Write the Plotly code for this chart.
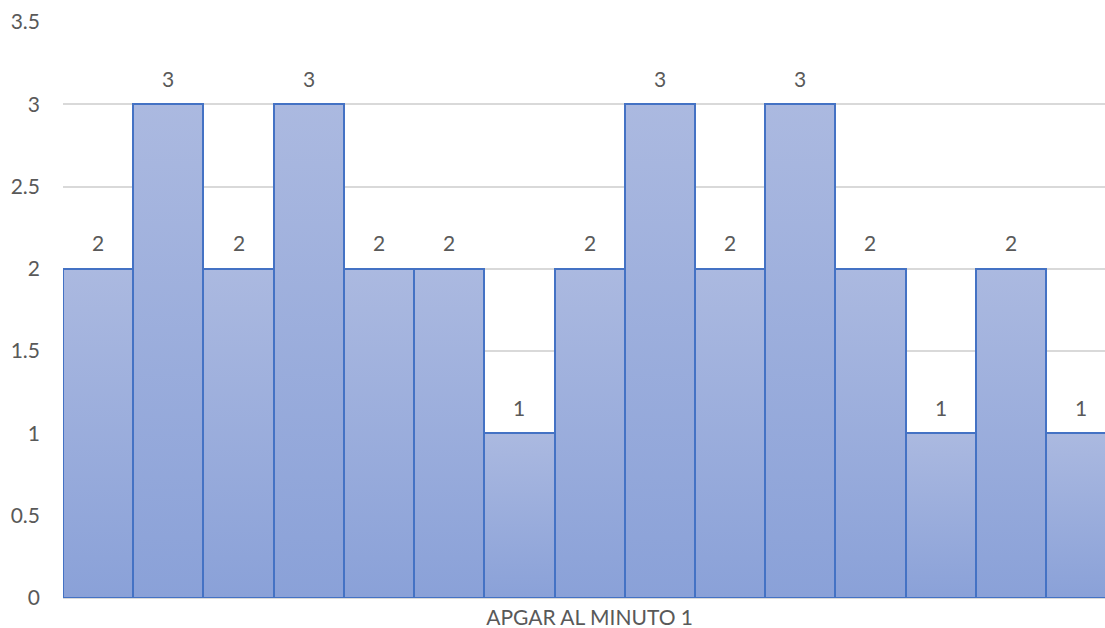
import plotly.graph_objects as go

# APGAR score counts, one column per group
values = [2, 3, 2, 3, 2, 2, 1, 2, 3, 2, 3, 2, 1, 2, 1]
category_label = "APGAR AL MINUTO 1"
y_ticks = [0, 0.5, 1, 1.5, 2, 2.5, 3, 3.5]

positions = list(range(len(values)))
half = 0.5
x_range = [-0.5, 14.34]
y_range = [0, 3.5]
text_color = "#595959"
font_size = 21

fig = go.Figure()

# gradient body of each column (light on top, deeper at the base)
for x, v in zip(positions, values):
    fig.add_trace(go.Scatter(
        x=[x - half, x + half, x + half, x - half, x - half],
        y=[0, 0, v, v, 0],
        mode="lines",
        line=dict(width=0),
        fill="toself",
        fillgradient=dict(type="vertical",
                          colorscale=[[0, "#8aa1d8"], [1, "#abb9e0"]]),
        hoverinfo="skip",
        showlegend=False,
    ))

# column outlines, on an overlaid axis pair so they sit above the fills
fig.add_trace(go.Bar(
    x=positions,
    y=values,
    width=1,
    marker=dict(color="rgba(0,0,0,0)", line=dict(color="#4472c4", width=2)),
    xaxis="x2", yaxis="y2",
    showlegend=False,
))

# value labels above each column
for x, v in zip(positions, values):
    fig.add_annotation(x=x, y=v, text=str(v), showarrow=False,
                       yshift=26, font=dict(size=font_size, color=text_color))

fig.update_layout(
    width=1105, height=628,
    margin=dict(l=63, r=0, t=22, b=30),
    paper_bgcolor="white", plot_bgcolor="white",
    font=dict(family="Lato, Open Sans, sans-serif", size=font_size, color=text_color),
    bargap=0,
    xaxis=dict(
        range=x_range,
        tickvals=[7], ticktext=[category_label],
        showgrid=False, zeroline=False, showline=False,
        ticks="", ticklabelstandoff=5,
        tickfont=dict(size=font_size, color=text_color),
    ),
    yaxis=dict(
        range=y_range, tickvals=y_ticks,
        showgrid=True, gridcolor="#d9d9d9", gridwidth=1.5,
        zeroline=True, zerolinecolor="#d9d9d9", zerolinewidth=1.5,
        showline=False, ticks="", ticklabelstandoff=22,
        tickfont=dict(size=font_size, color=text_color),
    ),
    xaxis2=dict(range=x_range, overlaying="x", visible=False),
    yaxis2=dict(range=y_range, overlaying="y", visible=False),
)

fig.write_html("out.html")
